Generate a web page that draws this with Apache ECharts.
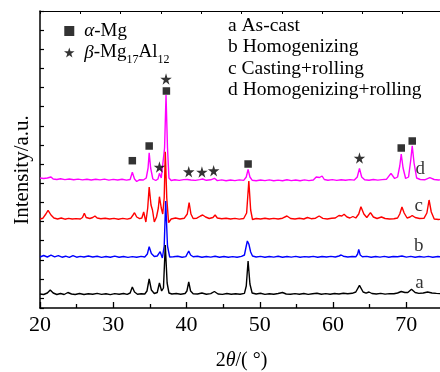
<!DOCTYPE html>
<html>
<head>
<meta charset="utf-8">
<script src="https://cdn.jsdelivr.net/npm/echarts@6/dist/echarts.min.js"></script>
<style>
  html, body { margin: 0; padding: 0; background: #fff; }
  #chart { width: 440px; height: 372px; }
</style>
</head>
<body>
<div id="chart"></div>
<script>
// stacked XRD patterns, y already includes the vertical offset of each curve
const curveA = [[20,14],[20.5,13.5],[21,15],[21.4,18],[21.8,15],[22.3,13.5],[22.8,14.5],[23.3,13.5],[23.8,15.5],[24.3,14],[24.8,13.5],[25.4,14.5],[26,13.5],[26.6,14.2],[27.2,13.8],[27.8,14.6],[28.4,13.6],[29,14.3],[29.6,13.4],[30.2,14.4],[30.8,13.8],[31.4,14.5],[31.9,13.6],[32.3,15],[32.6,21],[32.9,16],[33.3,13.8],[33.8,14.2],[34.3,14],[34.6,17],[34.9,29],[35.2,18],[35.6,14.5],[36,15.5],[36.3,25],[36.6,17],[36.85,20],[37.1,63],[37.35,25],[37.6,15],[38,14],[38.6,14.5],[39.2,13.8],[39.8,14.5],[40.05,17],[40.3,26],[40.55,17],[40.9,14.3],[41.5,14],[42.1,15],[42.7,13.8],[43.3,14.4],[43.8,16.5],[44.3,14],[44.9,13.6],[45.5,14.5],[46.1,13.8],[46.7,14.3],[47.3,13.7],[47.9,14.6],[48.15,22],[48.4,47],[48.65,24],[48.95,15],[49.5,14],[50.1,14.8],[50.7,13.6],[51.3,14.3],[51.9,13.8],[52.5,14.5],[53.1,15.5],[53.6,14],[54.2,13.7],[54.8,14.4],[55.4,13.8],[56,14.5],[56.6,13.6],[57.2,14.3],[57.8,14.8],[58.4,13.8],[59,14.4],[59.6,13.7],[60.2,14.5],[60.8,14],[61.4,14.8],[62,14.2],[62.6,14.7],[63.1,16],[63.6,22.7],[64.1,16],[64.5,14.8],[64.9,16],[65.3,14.5],[65.9,14],[66.5,14.6],[67.1,13.9],[67.7,14.4],[68.3,14.2],[68.8,15],[69.3,16.5],[69.8,15.5],[70.2,15.5],[70.7,18.7],[71.2,15.5],[71.7,14.6],[72.3,15],[72.9,16],[73.5,15],[74.1,14.6],[75,14.2]];

const curveB = [[20,51],[20.5,52.5],[21,51],[21.5,52.8],[22,51.2],[22.5,52.3],[23,50.8],[23.5,51.8],[24,50.6],[24.5,52.4],[25,50.8],[25.5,51.6],[26,51],[26.6,52],[27.2,51],[27.8,51.8],[28.4,50.6],[29,51.5],[29.6,50.8],[30.2,51.9],[30.8,50.7],[31.4,51.5],[32,50.6],[32.6,51.4],[33.2,50.7],[33.8,51.6],[34.3,51],[34.65,54],[34.9,61.3],[35.2,54.5],[35.6,51.5],[36,52],[36.4,56.3],[36.7,50],[36.95,62],[37.15,107],[37.4,62],[37.7,51],[38.2,51.2],[38.8,51.8],[39.4,50.8],[39.9,51.4],[40.1,53],[40.3,57],[40.55,53],[40.9,51.2],[41.5,51.8],[42.1,50.7],[42.7,51.5],[43.3,50.9],[43.9,51.7],[44.5,50.8],[45.1,51.5],[45.7,50.7],[46.3,51.4],[46.9,50.8],[47.5,51.6],[47.9,53],[48.15,62],[48.3,67],[48.5,64],[48.75,56],[49,52],[49.5,51],[50.1,51.6],[50.7,50.8],[51.3,51.5],[51.9,50.9],[52.5,51.7],[53.1,50.8],[53.7,51.5],[54.3,50.9],[54.9,51.6],[55.5,50.8],[56.1,51.4],[56.7,51],[57.3,51.6],[57.9,50.8],[58.5,51.5],[59.1,51],[59.7,51.6],[60.3,51],[60.8,52],[61.1,53],[61.4,51.8],[62,51],[62.6,51.5],[63.1,51.2],[63.35,54],[63.5,58.7],[63.7,53],[64,51.2],[64.6,51.6],[65.2,50.8],[65.8,51.5],[66.4,50.9],[67,51.6],[67.6,50.8],[68.2,51.5],[68.8,51.3],[69.4,52],[70,50.9],[70.6,51.6],[71.2,50.8],[71.8,51.5],[72.4,50.9],[73,51.6],[73.6,50.8],[74.3,51.5],[75,51]];

const curveC = [[20,89],[20.4,89.8],[20.8,94],[21.1,97.7],[21.5,93],[21.9,90],[22.4,89],[22.9,90],[23.4,88.8],[23.9,89.6],[24.4,89],[24.9,89.4],[25.5,89],[25.8,90.5],[26.05,94.7],[26.3,90.5],[26.8,89.5],[27.2,90.5],[27.5,92],[27.8,90],[28.3,89.3],[28.9,89.8],[29.5,89],[30.1,89.6],[30.7,88.8],[31.3,89.6],[31.9,88.9],[32.4,89.8],[32.7,93],[32.9,95.3],[33.2,91],[33.6,89.3],[33.9,90],[34.15,96],[34.45,86],[34.7,100],[34.9,121],[35.15,103],[35.35,98],[35.6,86],[35.9,91],[36.15,100],[36.3,111.3],[36.55,100],[36.75,94],[36.95,110],[37.1,156.3],[37.3,110],[37.55,85.3],[37.9,89],[38.5,90],[39.1,89],[39.7,89.8],[40.1,94],[40.35,105.3],[40.6,94],[40.9,89.5],[41.4,89.8],[41.9,92],[42.2,93],[42.6,91],[43.1,89.5],[43.6,90.5],[43.9,93],[44.2,90],[44.8,89.2],[45.4,89.8],[46,89],[46.6,89.6],[47.2,88.9],[47.8,89.5],[48.2,95],[48.5,127],[48.75,98],[49,88.5],[49.5,89.5],[50.1,89],[50.7,89.8],[51.3,89],[51.9,89.6],[52.5,89],[53.1,89.8],[53.7,92],[54.2,89.5],[54.8,89],[55.4,89.7],[56,89],[56.5,90.5],[57,89.3],[57.6,89.8],[58.1,92],[58.6,89.6],[59.2,89],[59.8,89.8],[60.3,90],[60.8,92.5],[61.2,92],[61.5,93.7],[61.9,91],[62.3,90],[62.7,91.5],[63.1,90],[63.5,94],[63.8,101.3],[64.2,94],[64.6,90.5],[65.1,95.3],[65.5,91],[66,89.5],[66.6,91],[67.1,89.5],[67.7,89],[68.3,89.3],[68.8,90],[69.1,94],[69.4,101],[69.7,95],[70.1,90],[70.5,91],[70.8,92.5],[71.2,90.5],[71.8,89.5],[72.4,89.6],[72.8,95],[73.1,108],[73.4,96],[73.8,89],[74.4,88.5],[75,88.8]];

const curveD = [[20,130],[20.5,129.5],[21,130],[21.5,131],[21.8,129],[22.3,128.5],[22.8,129.3],[23.4,128.4],[24,129],[24.6,128.2],[25.2,128.9],[25.8,128.1],[26.4,128.8],[27,128],[27.6,128.7],[28.2,128.1],[28.8,128.9],[29.4,127.9],[30,128.6],[30.6,128],[31.2,128.7],[31.8,127.9],[32.3,128.5],[32.6,135.7],[32.9,129],[33.2,126.5],[33.6,128.3],[34.1,128],[34.5,130],[34.75,140],[34.9,155.3],[35.1,140],[35.4,129],[35.8,127.5],[36.1,129],[36.3,134.7],[36.55,130],[36.8,131],[37,160],[37.2,213],[37.4,160],[37.6,130],[37.9,127.5],[38.4,128.3],[39,127.6],[39.6,128.4],[40.1,128.5],[40.3,130.5],[40.6,128],[41.2,127.6],[41.8,128.4],[42.2,129],[42.7,127.7],[43.3,128.2],[43.8,129.7],[44.2,127.4],[44.8,128.1],[45.4,127.3],[46,128],[46.6,127.4],[47.2,128.1],[47.8,127.6],[48.15,131],[48.4,138.7],[48.65,131],[48.95,127.8],[49.5,127.3],[50.1,128],[50.7,127.4],[51.3,128.1],[51.9,127.2],[52.5,127.9],[53.1,127.3],[53.7,128.2],[54.3,127.4],[54.9,128],[55.5,127.3],[56.1,128.1],[56.7,127.4],[57.3,128],[57.7,131],[57.9,132],[58.15,130.5],[58.5,132],[58.8,128.5],[59.3,127.8],[59.9,128.4],[60.5,127.6],[61.1,128.3],[61.7,127.7],[62.3,128.4],[62.9,127.9],[63.3,131],[63.6,139.7],[63.9,131],[64.3,128.2],[64.9,127.8],[65.5,128.5],[66.1,127.9],[66.7,128.4],[67.3,128.8],[67.9,134.7],[68.4,129.5],[68.8,131],[69.1,142],[69.3,154],[69.55,140],[69.9,129.5],[70.3,131],[70.6,148],[70.8,162.3],[71.05,145],[71.4,130],[71.9,128.5],[72.5,128.2],[73.2,130.3],[73.8,128.5],[74.4,128],[75,128.3]];

// phase markers
const alphaMg = [[32.6,147.3],[34.9,162],[37.25,217],[48.4,144],[69.3,160],[70.8,167]];
const betaPhase = [[36.3,141],[37.2,229],[40.3,136.3],[42.1,136],[43.7,137.3],[63.6,150]];

// curve tags a-d
const tagNames = ['a', 'b', 'c', 'd'];
const tagPoints = [[71.8,25],[71.7,62],[71.7,102],[71.9,139]];

const legendLines = ['a As-cast', 'b Homogenizing', 'c Casting+rolling', 'd Homogenizing+rolling'];

const xTicks = [20, 30, 40, 50, 60, 70];

const serif = '"Liberation Serif", "Times New Roman", serif';
const star = 'path://M50,0 L61,35 L98,35 L68,57 L79,91 L50,70 L21,91 L32,57 L2,35 L39,35 Z';
const square = 'path://M0,0 H10 V10 H0 Z';

const chart = echarts.init(document.getElementById('chart'));

const lineSeries = (data, color) => ({
    type: 'line',
    data: data,
    showSymbol: false,
    symbol: 'none',
    lineStyle: { color: color, width: 1.4 },
    itemStyle: { color: color },
    silent: true
});

chart.setOption({
    animation: false,
    backgroundColor: '#fff',
    textStyle: { fontFamily: serif, color: '#000' },
    grid: { left: 40, top: 11, right: -3, bottom: 64, containLabel: false, outerBoundsMode: 'none' },
    xAxis: [{
        type: 'value',
        min: 20,
        max: 75,
        interval: 10,
        position: 'bottom',
        axisLine: { lineStyle: { color: '#000', width: 1.5 } },
        axisTick: { inside: true, length: 6, lineStyle: { color: '#000', width: 1.3 } },
        minorTick: { show: true, splitNumber: 2, length: 4, lineStyle: { color: '#000', width: 1.3 } },
        axisLabel: {
            fontFamily: serif, fontSize: 22, color: '#000', margin: 6,
            formatter: v => xTicks.includes(v) ? String(v) : ''
        },
        splitLine: { show: false },
        name: '2{i|θ}/( °)',
        nameLocation: 'middle',
        nameGap: 43,
        nameTextStyle: {
            fontFamily: serif, fontSize: 20, color: '#000',
            rich: { i: { fontFamily: serif, fontSize: 20, fontStyle: 'italic', color: '#000' } }
        }
    }, {
        type: 'value',
        min: 0,
        max: 10,
        interval: 1,
        position: 'top',
        axisLine: { lineStyle: { color: '#000', width: 1.2 } },
        axisTick: { inside: true, length: 3, lineStyle: { color: '#000', width: 1 } },
        axisLabel: { show: false },
        splitLine: { show: false }
    }],
    yAxis: [{
        type: 'value',
        min: 0,
        max: 297,
        axisLine: { show: true, lineStyle: { color: '#000', width: 1.5 } },
        axisTick: { show: false },
        axisLabel: { show: false },
        splitLine: { show: false }
    }, {
        type: 'value',
        inverse: true,
        min: 0,
        max: 297,
        interval: 19.14,
        position: 'left',
        axisLine: { show: false },
        axisTick: { show: true, inside: true, length: 4, lineStyle: { color: '#000', width: 1.2 } },
        axisLabel: { show: false },
        splitLine: { show: false }
    }],
    legend: {
        orient: 'vertical',
        left: 64,
        top: 21,
        padding: 0,
        itemWidth: 20,
        itemHeight: 10,
        itemGap: -2,
        data: [
            { name: 'α-Mg', icon: square },
            { name: 'β-Mg17Al12', icon: star }
        ],
        formatter: name => name === 'α-Mg'
            ? '{i|α}-Mg'
            : '{i|β}-Mg{s|17}Al{s|12}',
        textStyle: {
            fontFamily: serif, fontSize: 19, color: '#000', lineHeight: 20,
            rich: {
                i: { fontFamily: serif, fontSize: 19, fontStyle: 'italic', color: '#000', lineHeight: 20 },
                s: { fontFamily: serif, fontSize: 12, color: '#000', verticalAlign: 'bottom', lineHeight: 27 }
            }
        }
    },
    graphic: [{
        type: 'text',
        left: 228,
        top: 15,
        style: {
            text: legendLines.join('\n'),
            fontFamily: serif,
            fontSize: 19.5,
            fill: '#000',
            lineHeight: 21.4
        }
    }, {
        type: 'text',
        x: 22,
        y: 170,
        rotation: Math.PI / 2,
        style: {
            text: 'Intensity/a.u.',
            fontFamily: serif,
            fontSize: 21,
            fill: '#000',
            align: 'center',
            verticalAlign: 'middle'
        }
    }],
    series: [
        lineSeries(curveD, '#ff00ff'),
        lineSeries(curveC, '#ff0000'),
        lineSeries(curveB, '#0000ff'),
        lineSeries(curveA, '#000000'),
        {
            name: 'α-Mg',
            type: 'scatter',
            data: alphaMg,
            symbol: square,
            symbolSize: 7.5,
            itemStyle: { color: '#000' },
            z: 5
        },
        {
            name: 'β-Mg17Al12',
            type: 'scatter',
            data: betaPhase,
            symbol: star,
            symbolSize: 11.5,
            itemStyle: { color: '#000' },
            z: 5
        },
        {
            type: 'scatter',
            data: tagPoints.map((p, i) => [p[0], p[1], tagNames[i]]),
            symbolSize: 0,
            silent: true,
            label: {
                show: true,
                position: 'inside',
                formatter: p => p.value[2],
                fontFamily: serif,
                fontSize: 19,
                color: '#000'
            }
        }
    ]
});
</script>
</body>
</html>
